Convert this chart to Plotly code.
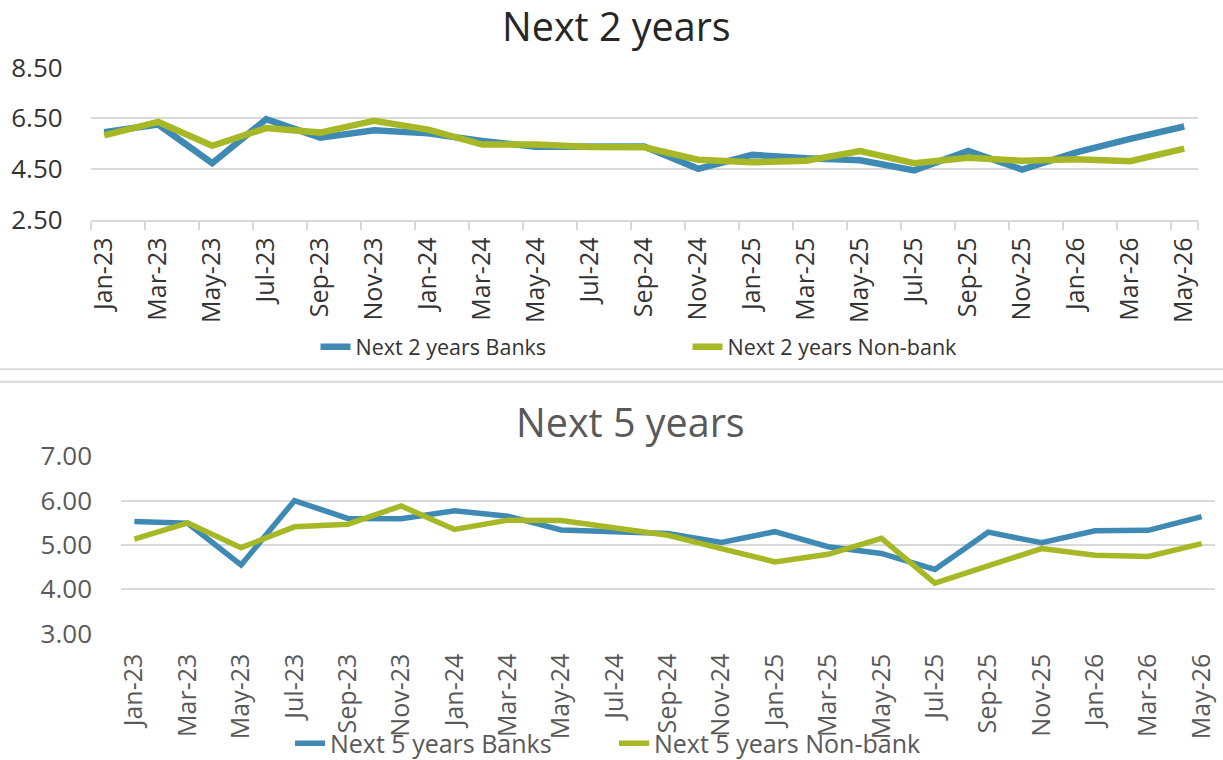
import pandas as pd
import plotly.graph_objects as go

# Survey months (bi-monthly) shown on both panels
months = ["Jan-23", "Mar-23", "May-23", "Jul-23", "Sep-23", "Nov-23",
          "Jan-24", "Mar-24", "May-24", "Jul-24", "Sep-24", "Nov-24",
          "Jan-25", "Mar-25", "May-25", "Jul-25", "Sep-25", "Nov-25",
          "Jan-26", "Mar-26", "May-26"]

# Next 2 years expectations
two_yr_banks = [5.95, 6.25, 4.72, 6.46, 5.73, 6.02, 5.90, 5.60, 5.37, 5.39, 5.38,
                4.50, 5.05, 4.92, 4.84, 4.44, 5.21, 4.47, 5.15, 5.68, 6.17]
two_yr_nonbank = [5.82, 6.35, 5.41, 6.11, 5.93, 6.40, 6.05, 5.46, 5.46, 5.36, 5.35,
                  4.86, 4.76, 4.82, 5.20, 4.72, 4.94, 4.82, 4.88, 4.80, 5.30]

# Next 5 years expectations
five_yr_banks = [5.53, 5.49, 4.55, 6.00, 5.60, 5.59, 5.77, 5.65, 5.34, 5.30, 5.26,
                 5.06, 5.30, 4.96, 4.81, 4.45, 5.29, 5.05, 5.32, 5.33, 5.64]
five_yr_nonbank = [5.13, 5.50, 4.94, 5.41, 5.47, 5.88, 5.35, 5.56, 5.55, 5.37, 5.22,
                   4.92, 4.62, 4.79, 5.15, 4.14, 4.52, 4.92, 4.77, 4.74, 5.03]

# Monthly category slots so the bi-monthly points sit on a month grid
all_months = pd.date_range(pd.to_datetime(months[0], format="%b-%y"),
                           pd.to_datetime(months[-1], format="%b-%y"),
                           freq="MS").strftime("%b-%y").tolist()

BLUE = "#3F8AB4"
GREEN = "#A6B826"
GRID = "#D9D9D9"
FONT = "Open Sans"
W, H = 1223, 760

fig = go.Figure()

fig.add_trace(go.Scatter(x=months, y=two_yr_banks, mode="lines", name="Next 2 years Banks",
                         line=dict(color=BLUE, width=6.5), xaxis="x", yaxis="y", legend="legend"))
fig.add_trace(go.Scatter(x=months, y=two_yr_nonbank, mode="lines", name="Next 2 years Non-bank",
                         line=dict(color=GREEN, width=6.5), xaxis="x", yaxis="y", legend="legend"))
fig.add_trace(go.Scatter(x=months, y=five_yr_banks, mode="lines", name="Next 5 years Banks",
                         line=dict(color=BLUE, width=5.5), xaxis="x2", yaxis="y2", legend="legend2"))
fig.add_trace(go.Scatter(x=months, y=five_yr_nonbank, mode="lines", name="Next 5 years Non-bank",
                         line=dict(color=GREEN, width=5.5), xaxis="x2", yaxis="y2", legend="legend2"))


def px_x(v):
    return v / W


def px_y(v):
    return (H - v) / H


cat_axis = dict(type="category", categoryorder="array", categoryarray=all_months,
                range=[-0.5, len(all_months) - 0.5], tickmode="array",
                tickvals=months, ticktext=months, tickangle=-90, automargin=False,
                tickson="boundaries", showgrid=False, zeroline=False, fixedrange=True)

fig.update_layout(
    template="none",
    width=W, height=H,
    margin=dict(l=0, r=0, t=0, b=0, pad=0, autoexpand=False),
    paper_bgcolor="white", plot_bgcolor="white",
    font=dict(family=FONT),
    xaxis=dict(cat_axis, domain=[px_x(90.7), px_x(1197.7)], anchor="y",
               showline=True, linecolor=GRID, linewidth=2,
               ticks="outside", ticklen=8, tickwidth=2, tickcolor=GRID,
               ticklabelstandoff=6,
               tickfont=dict(size=25, color="#333333")),
    yaxis=dict(domain=[px_y(219.5), px_y(67.5)], range=[2.5, 8.5], anchor="x",
               tickmode="linear", tick0=2.5, dtick=2, tickformat=".2f", automargin=False,
               showgrid=True, gridcolor=GRID, gridwidth=2, zeroline=False, showline=False,
               ticks="", ticklabelstandoff=27,
               tickfont=dict(size=26, color="#333333"), fixedrange=True),
    xaxis2=dict(cat_axis, domain=[px_x(121), px_x(1215)], anchor="y2",
                showline=False, ticks="", ticklabelstandoff=14,
                tickfont=dict(size=25, color="#595959")),
    yaxis2=dict(domain=[px_y(633.7), px_y(456.3)], range=[3, 7], anchor="x2",
                tickmode="linear", tick0=3, dtick=1, tickformat=".2f", automargin=False,
                showgrid=True, gridcolor=GRID, gridwidth=2, zeroline=False, showline=False,
                ticks="", ticklabelstandoff=28,
                tickfont=dict(size=26, color="#595959"), fixedrange=True),
    legend=dict(orientation="h", x=px_x(315.5), xanchor="left", y=px_y(346.7), yanchor="middle",
                entrywidth=327, entrywidthmode="pixels", bgcolor="rgba(0,0,0,0)",
                font=dict(size=21.5, color="#333333")),
    legend2=dict(orientation="h", x=px_x(290), xanchor="left", y=px_y(743.5), yanchor="middle",
                 entrywidth=279, entrywidthmode="pixels", bgcolor="rgba(0,0,0,0)",
                 font=dict(size=25, color="#595959")),
    annotations=[
        dict(text="Next 2 years", x=px_x(616), y=px_y(26.5), xref="paper", yref="paper",
             xanchor="center", yanchor="middle",
             showarrow=False, font=dict(size=39.5, color="#262626")),
        dict(text="Next 5 years", x=px_x(630.5), y=px_y(422), xref="paper", yref="paper",
             xanchor="center", yanchor="middle",
             showarrow=False, font=dict(size=39.5, color="#595959")),
    ],
    shapes=[
        dict(type="line", xref="paper", yref="paper", x0=0, x1=1, y0=px_y(369.3), y1=px_y(369.3),
             line=dict(color=GRID, width=2)),
        dict(type="line", xref="paper", yref="paper", x0=0, x1=1, y0=px_y(381.7), y1=px_y(381.7),
             line=dict(color=GRID, width=2)),
    ],
)

fig.write_html("out.html")
